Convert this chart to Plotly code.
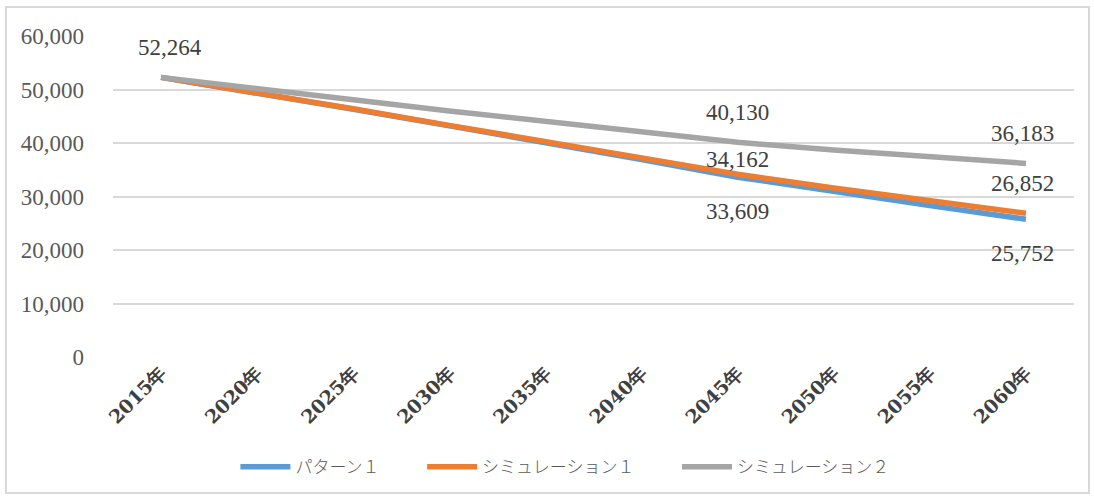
import plotly.graph_objects as go

years = ["2015年", "2020年", "2025年", "2030年", "2035年", "2040年", "2045年", "2050年", "2055年", "2060年"]
pattern1 = [52264, 49400, 46300, 43200, 40100, 36900, 33609, 30900, 28300, 25752]
sim1 = [52264, 49450, 46400, 43300, 40250, 37150, 34162, 31600, 29200, 26852]
sim2 = [52264, 50300, 48100, 46000, 44000, 42050, 40130, 38700, 37400, 36183]

names = ["パターン１", "シミュレーション１", "シミュレーション２"]
colors = ["#5B9BD5", "#ED7D31", "#A5A5A5"]
series = [pattern1, sim1, sim2]

# labelled points: (series index, category index, xshift, yshift)
labels = [
    (0, 0, 9, 30),
    (2, 6, 0, 30),
    (1, 6, 0, 15),
    (0, 6, 0, -34),
    (2, 9, -3, 30),
    (1, 9, -3, 30),
    (0, 9, -3, -34),
]

serif = "Liberation Serif, Noto Sans CJK JP, serif"
pad = "\u00a0" * 10

fig = go.Figure()
for s, n, c in zip(series, names, colors):
    fig.add_trace(go.Scatter(x=years, y=s, name=n + pad, mode="lines",
                             line=dict(color=c, width=5.5)))

for si, ci, xs, ys in labels:
    v = series[si][ci]
    fig.add_annotation(x=years[ci], y=v, text=f"{v:,}", showarrow=False,
                       xshift=xs, yshift=ys,
                       font=dict(family=serif, size=23, color="#404040"))

fig.add_shape(type="rect", xref="paper", yref="paper",
              x0=-0.1113, x1=1.0156, y0=-0.4237, y1=1.0903,
              line=dict(color="#D9D9D9", width=2), layer="below")

fig.update_layout(
    width=1094, height=499,
    margin=dict(l=113, r=20, t=36, b=142),
    paper_bgcolor="white", plot_bgcolor="white",
    showlegend=True,
    legend=dict(orientation="h", x=0.49, xanchor="center", y=-0.343, yanchor="middle",
                font=dict(family="Noto Sans CJK JP", size=17, color="#595959", weight=300),
                itemwidth=50),
    xaxis=dict(type="category", range=[-0.5, 9.5], showgrid=False, showline=False,
               ticks="", tickangle=-45,
               tickfont=dict(family="DejaVu Serif", size=19, color="#404040", weight="bold")),
    yaxis=dict(range=[0, 60000], dtick=10000, tickformat=",", showgrid=True,
               gridcolor="#D9D9D9", gridwidth=2, zeroline=False, showline=False,
               ticks="", ticklabelstandoff=28,
               tickfont=dict(family=serif, size=23, color="#595959")),
)

fig.write_html("out.html")
